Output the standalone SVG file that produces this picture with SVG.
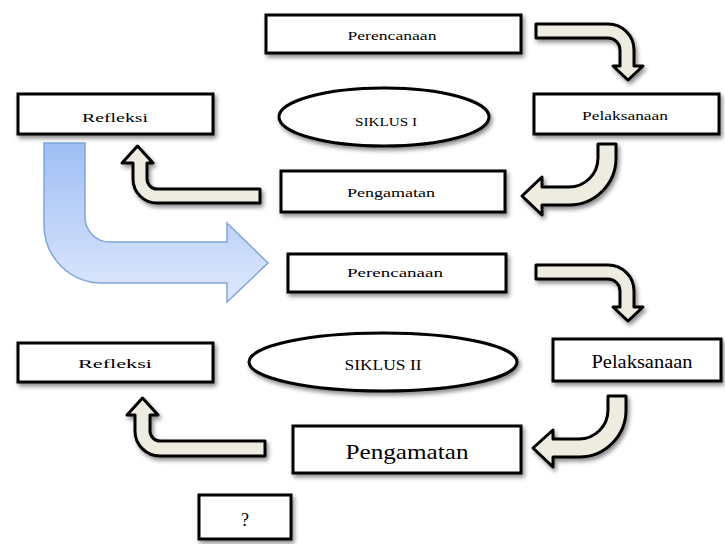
<svg xmlns="http://www.w3.org/2000/svg" width="725" height="544" viewBox="0 0 725 544">
<defs>
<filter id="sh" x="-20%" y="-30%" width="140%" height="170%">
<feDropShadow dx="2" dy="3" stdDeviation="2" flood-color="#000" flood-opacity="0.45"/>
</filter>
<linearGradient id="bg" x1="0" y1="0" x2="0" y2="1">
<stop offset="0" stop-color="#9fbef5"/>
<stop offset="1" stop-color="#dfe9fc"/>
</linearGradient>
<style>
.box{fill:#fff;stroke:#000;stroke-width:3;filter:url(#sh)}
.arr{fill:#eeece1;stroke:#000;stroke-width:3;stroke-linejoin:round;filter:url(#sh)}
.blue{fill:url(#bg);stroke:#7fa6dc;stroke-width:1.5}
text{font-family:"Liberation Serif","Times New Roman",serif;fill:#000;text-anchor:middle}
.s{font-size:13px}
.m{font-size:15px}
.l{font-size:18px}
.xl{font-size:21px}
</style>
</defs>
<rect width="725" height="544" fill="#fff"/>
<g id="connectors">
<path class="blue" d="M44,143 H85 V217 A25,25 0 0 0 110,242 H227 V223 L268,263 L227,302 V283 H102 A58,58 0 0 1 44,225 Z"/>
<path class="arr" d="M536,24 H608 A26,26 0 0 1 634,50 V66 H643 L628,80 L613,66 H620 V50 A12,12 0 0 0 608,38 H536 Z"/>
<path class="arr" d="M598,144 H616 V158 A47,47 0 0 1 569,205 H542 V215 L522,196 L542,177 V187 H569 A29,29 0 0 0 598,158 Z"/>
<path class="arr" d="M260,189 V203 H157 A24,24 0 0 1 133,179 V163 H122 L137.5,146 L153,163 H147 V179 A10,10 0 0 0 157,189 Z"/>
<path class="arr" d="M536,265 H608 A26,26 0 0 1 634,291 V307 H643 L628,321 L613,307 H620 V291 A12,12 0 0 0 608,279 H536 Z"/>
<path class="arr" d="M608,396 H626 V410 A47,47 0 0 1 579,457 H553 V467 L533,448 L553,430 V439 H579 A29,29 0 0 0 608,410 Z"/>
<path class="arr" d="M265,441 V456 H160 A25,25 0 0 1 135,431 V415 H127 L142.5,398 L158,415 H150 V431 A10,10 0 0 0 160,441 Z"/>
</g>
<g id="perencanaan1"><rect class="box" x="266" y="15" width="255" height="38"/><text class="s" x="392" y="40" textLength="89" lengthAdjust="spacingAndGlyphs">Perencanaan</text></g>
<g id="siklus1"><ellipse class="box" cx="384" cy="117" rx="105" ry="29"/><text class="s" x="386" y="126" textLength="62" lengthAdjust="spacingAndGlyphs">SIKLUS I</text></g>
<g id="pelaksanaan1"><rect class="box" x="534" y="94" width="185" height="40"/><text class="s" x="625" y="120" textLength="86" lengthAdjust="spacingAndGlyphs">Pelaksanaan</text></g>
<g id="refleksi1"><rect class="box" x="18" y="94" width="195" height="40"/><text class="s" x="115" y="122" textLength="66" lengthAdjust="spacingAndGlyphs">Refleksi</text></g>
<g id="pengamatan1"><rect class="box" x="281" y="171" width="224" height="41"/><text class="s" x="391" y="197" textLength="88" lengthAdjust="spacingAndGlyphs">Pengamatan</text></g>
<g id="perencanaan2"><rect class="box" x="288" y="254" width="218" height="38"/><text class="s" x="395" y="277" textLength="96" lengthAdjust="spacingAndGlyphs">Perencanaan</text></g>
<g id="siklus2"><ellipse class="box" cx="383" cy="362" rx="134" ry="29"/><text class="m" x="383" y="370" textLength="77" lengthAdjust="spacingAndGlyphs">SIKLUS II</text></g>
<g id="pelaksanaan2"><rect class="box" x="553" y="339" width="168" height="42"/><text class="l" x="642" y="368" textLength="101" lengthAdjust="spacingAndGlyphs">Pelaksanaan</text></g>
<g id="refleksi2"><rect class="box" x="18" y="343" width="195" height="39"/><text class="s" x="115" y="368" textLength="74" lengthAdjust="spacingAndGlyphs">Refleksi</text></g>
<g id="pengamatan2"><rect class="box" x="293" y="426" width="228" height="47"/><text class="xl" x="407" y="459" textLength="123" lengthAdjust="spacingAndGlyphs">Pengamatan</text></g>
<g id="q"><rect class="box" x="199" y="495" width="92" height="44"/><text class="l" x="245" y="526">?</text></g>
</svg>
